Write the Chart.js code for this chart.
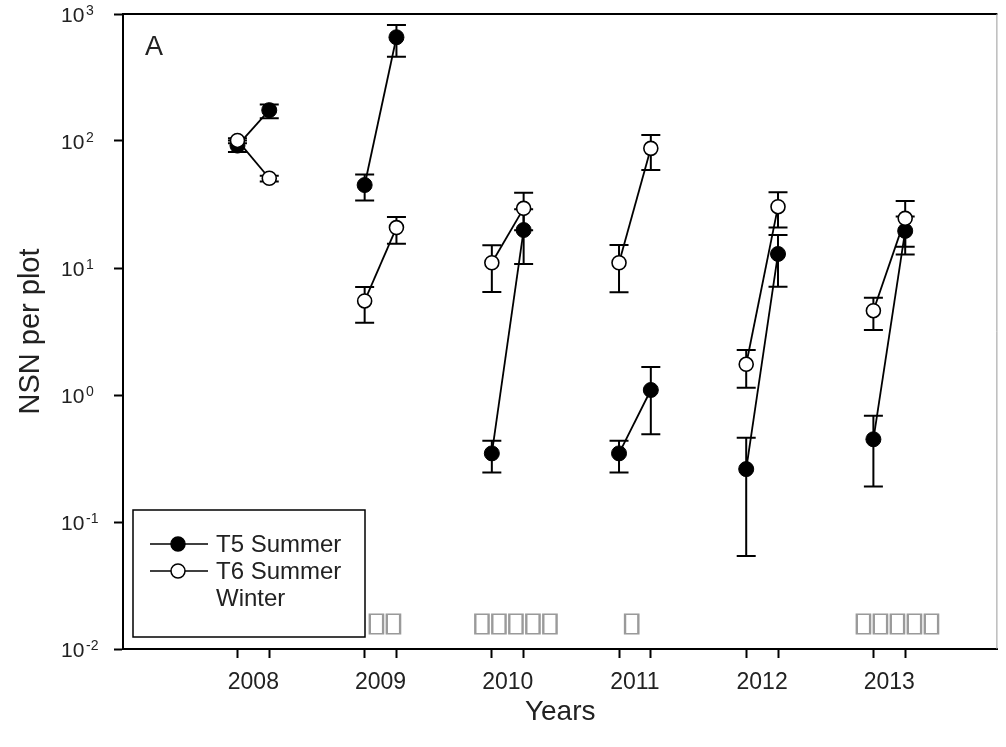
<!DOCTYPE html>
<html lang="en">
<head>
<meta charset="UTF-8">
<title>NSN per plot</title>
<script src="https://cdn.jsdelivr.net/npm/chart.js"></script>
<style>
  html, body { margin: 0; padding: 0; background: #ffffff; }
  canvas { display: block; }
</style>
</head>
<body>
<canvas id="nsnChart" width="1006" height="747"></canvas>
<script>
// sampling years; summer sits on the year, winter a quarter year later
const years = [2008, 2009, 2010, 2011, 2012, 2013];
const winterShift = 0.25;

// T5 (filled circles)
const t5Summer   = [92, 45, 0.347, 0.347, 0.261, 0.448];
const t5SummerLo = [82, 34, 0.245, 0.245, 0.054, 0.19];
const t5SummerHi = [101, 54.5, 0.437, 0.437, 0.461, 0.687];
const t5Winter   = [175, 656, 19.9, 1.095, 12.9, 19.6];
const t5WinterLo = [151, 461, 10.75, 0.49, 7.13, 12.8];
const t5WinterHi = [194, 819, 29, 1.66, 18.2, 25.4];

// T6 (open circles)
const t6Summer   = [101, 5.5, 11.0, 11.0, 1.745, 4.61];
const t6SummerLo = [96, 3.7, 6.47, 6.44, 1.14, 3.25];
const t6SummerHi = [105, 7.1, 15.1, 15.2, 2.26, 5.84];
const t6Winter   = [50.9, 20.8, 29.5, 87.5, 30.4, 24.6];
const t6WinterLo = [48, 15.5, 19.8, 59.1, 20.8, 14.7];
const t6WinterHi = [53.3, 25.2, 39.2, 111.5, 39.5, 33.7];

// axis ticks
const yTicks = [0.01, 0.1, 1, 10, 100, 1000];
const yTickExps = ['-2', '-1', '0', '1', '2', '3'];

// legend text and the unrendered marks under each year
const legendNames = ['T5 Summer', 'T6 Summer', 'Winter'];
const yearMarks = ['', '\u25AF\u25AF', '\u25AF\u25AF\u25AF\u25AF\u25AF', '\u25AF', '', '\u25AF\u25AF\u25AF\u25AF\u25AF'];
const yearMarkShift = [0, 0.16, 0.19, 0.1, 0, 0.19];

const FONT = "'Liberation Sans', Arial, Helvetica, sans-serif";
const TEXT = '#222222';

function pairs(summer, winter) {
    const out = [];
    years.forEach((yr, i) => {
        out.push({ x: yr, y: summer[i] });
        out.push({ x: yr + winterShift, y: winter[i] });
    });
    return out;
}

function isLabelTick(v) {
    return Math.round((v - Math.floor(v)) * 8) === 1;
}

const errorSets = [
    { shift: 0, lo: t5SummerLo, hi: t5SummerHi },
    { shift: winterShift, lo: t5WinterLo, hi: t5WinterHi },
    { shift: 0, lo: t6SummerLo, hi: t6SummerHi },
    { shift: winterShift, lo: t6WinterLo, hi: t6WinterHi }
];

const decorations = {
    id: 'decorations',
    beforeDatasetsDraw(chart) {
        const { ctx, scales: { x, y } } = chart;
        ctx.save();
        ctx.strokeStyle = '#000';
        ctx.lineWidth = 2;
        errorSets.forEach(s => {
            s.lo.forEach((lo, i) => {
                const px = x.getPixelForValue(years[i] + s.shift);
                const yl = y.getPixelForValue(lo);
                const yh = y.getPixelForValue(s.hi[i]);
                ctx.beginPath();
                ctx.moveTo(px, yl); ctx.lineTo(px, yh);
                ctx.moveTo(px - 9.5, yl); ctx.lineTo(px + 9.5, yl);
                ctx.moveTo(px - 9.5, yh); ctx.lineTo(px + 9.5, yh);
                ctx.stroke();
            });
        });
        ctx.restore();
    },
    afterDraw(chart) {
        const { ctx, chartArea: a, scales: { x, y } } = chart;
        ctx.save();

        // top and right frame
        ctx.strokeStyle = '#000';
        ctx.lineWidth = 2;
        ctx.beginPath();
        ctx.moveTo(a.left - 1, a.top);
        ctx.lineTo(a.right, a.top);
        ctx.stroke();
        ctx.strokeStyle = '#9a9a9a';
        ctx.lineWidth = 1;
        ctx.beginPath();
        ctx.moveTo(a.right - 0.5, a.top);
        ctx.lineTo(a.right - 0.5, a.bottom);
        ctx.stroke();

        // y tick labels as 10 with a raised exponent
        ctx.fillStyle = TEXT;
        ctx.textAlign = 'left';
        ctx.textBaseline = 'alphabetic';
        yTicks.forEach((v, i) => {
            const py = y.getPixelForValue(v);
            ctx.font = '21px ' + FONT;
            ctx.fillText('10', 61, py + 7.5);
            ctx.font = '14px ' + FONT;
            ctx.fillText(yTickExps[i], 86, py + 1);
        });

        // panel letter
        ctx.font = '27px ' + FONT;
        ctx.fillText('A', 145, 55);

        // legend
        ctx.strokeStyle = '#000';
        ctx.lineWidth = 1.5;
        ctx.strokeRect(133, 510, 232, 127);
        const rowY = [544, 571, 598];
        ctx.font = '24px ' + FONT;
        ctx.textBaseline = 'middle';
        legendNames.forEach((name, i) => {
            const ry = rowY[i];
            if (i < 2) {
                ctx.lineWidth = 1.5;
                ctx.beginPath();
                ctx.moveTo(150, ry); ctx.lineTo(208, ry);
                ctx.stroke();
                ctx.beginPath();
                ctx.arc(178, ry, 7, 0, Math.PI * 2);
                ctx.fillStyle = i === 0 ? '#000' : '#fff';
                ctx.fill();
                ctx.stroke();
            }
            ctx.fillStyle = TEXT;
            ctx.fillText(name, 216, ry + 1);
        });

        // grey boxes above the year axis
        ctx.font = '40px "DejaVu Sans"';
        ctx.fillStyle = '#9a9a9a';
        const m = ctx.measureText('\u25AF');
        const gw = m.actualBoundingBoxLeft + m.actualBoundingBoxRight;
        const gh = m.actualBoundingBoxAscent + m.actualBoundingBoxDescent;
        const bw = 17, bh = 21;
        yearMarks.forEach((marks, i) => {
            if (!marks) return;
            const n = marks.length;
            const cx = x.getPixelForValue(years[i] + yearMarkShift[i]);
            const x0 = cx - n * bw / 2;
            for (let k = 0; k < n; k++) {
                ctx.save();
                ctx.translate(x0 + k * bw, 620);
                ctx.scale(bw / gw, bh / gh);
                ctx.textBaseline = 'alphabetic';
                ctx.fillText(marks[k], m.actualBoundingBoxLeft, m.actualBoundingBoxAscent);
                ctx.restore();
            }
        });

        ctx.restore();
    }
};

new Chart(document.getElementById('nsnChart'), {
    type: 'line',
    data: {
        datasets: [
            {
                label: 'T6 Summer',
                data: pairs(t6Summer, t6Winter),
                borderColor: '#000',
                borderWidth: 1.8,
                pointRadius: 7,
                pointBorderWidth: 1.6,
                pointBackgroundColor: '#fff',
                pointBorderColor: '#000',
                segment: { borderColor: c => (c.p0DataIndex % 2 ? 'rgba(0,0,0,0)' : '#000') }
            },
            {
                label: 'T5 Summer',
                data: pairs(t5Summer, t5Winter),
                borderColor: '#000',
                borderWidth: 1.8,
                pointRadius: 7.5,
                pointBorderWidth: 1,
                pointBackgroundColor: '#000',
                pointBorderColor: '#000',
                segment: { borderColor: c => (c.p0DataIndex % 2 ? 'rgba(0,0,0,0)' : '#000') }
            }
        ]
    },
    options: {
        responsive: false,
        devicePixelRatio: 1,
        animation: false,
        layout: { padding: { top: 14, right: 1, left: 0, bottom: 0 } },
        plugins: { legend: { display: false }, tooltip: { enabled: false } },
        scales: {
            x: {
                type: 'linear',
                min: 2007.1,
                max: 2013.975,
                afterFit: s => { s.height = 98; },
                afterBuildTicks: s => {
                    const t = [];
                    years.forEach(yr => {
                        t.push({ value: yr }, { value: yr + 0.125 }, { value: yr + winterShift });
                    });
                    s.ticks = t;
                },
                grid: {
                    drawOnChartArea: false,
                    tickLength: 9,
                    tickWidth: 2,
                    tickColor: c => (c.tick && isLabelTick(c.tick.value) ? 'rgba(0,0,0,0)' : '#000')
                },
                border: { color: '#000', width: 2 },
                ticks: {
                    autoSkip: false,
                    maxRotation: 0,
                    padding: 11,
                    color: TEXT,
                    font: { family: FONT, size: 23 },
                    callback: v => (isLabelTick(v) ? String(Math.floor(v)) : '')
                },
                title: {
                    display: true,
                    text: 'Years',
                    color: TEXT,
                    font: { family: FONT, size: 28 },
                    padding: { top: 0, bottom: 18 }
                }
            },
            y: {
                type: 'logarithmic',
                min: 0.01,
                max: 1000,
                afterFit: s => { s.width = 123; },
                afterBuildTicks: s => { s.ticks = yTicks.map(v => ({ value: v })); },
                grid: {
                    drawOnChartArea: false,
                    tickLength: 9,
                    tickWidth: 2,
                    tickColor: '#000'
                },
                border: { color: '#000', width: 2 },
                ticks: { display: false },
                title: {
                    display: true,
                    text: 'NSN per plot',
                    color: TEXT,
                    font: { family: FONT, size: 29 },
                    padding: { top: 14, bottom: 0 }
                }
            }
        }
    },
    plugins: [decorations]
});
</script>
</body>
</html>
